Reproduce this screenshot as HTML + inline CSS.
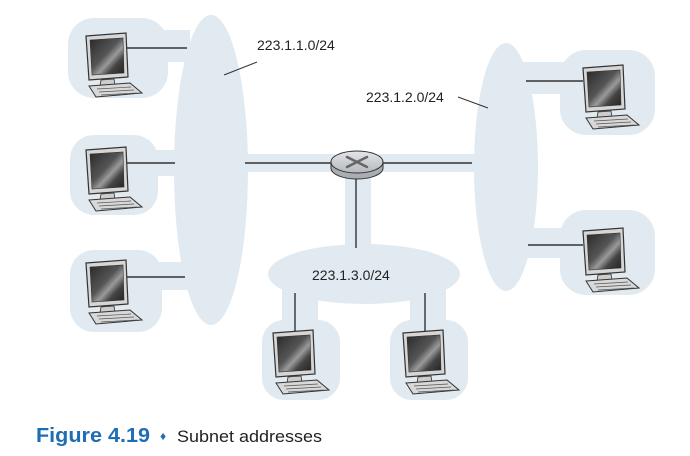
<!DOCTYPE html>
<html><head><meta charset="utf-8"><style>
html,body{margin:0;padding:0;background:#fff;}
svg{display:block}
</style></head><body>
<svg width="690" height="456" viewBox="0 0 690 456" xmlns="http://www.w3.org/2000/svg">
<defs>
<linearGradient id="scr" x1="0" y1="0" x2="1" y2="1">
<stop offset="0" stop-color="#2a2a2a"/><stop offset="0.45" stop-color="#555"/><stop offset="0.6" stop-color="#9a9a9a"/><stop offset="0.75" stop-color="#444"/><stop offset="1" stop-color="#222"/>
</linearGradient>
<linearGradient id="rt" x1="0" y1="0" x2="0" y2="1">
<stop offset="0" stop-color="#e4e6e8"/><stop offset="1" stop-color="#b4b8bc"/>
</linearGradient>
<g id="pc">
<polygon points="0,3 40,0 42,44 3,47" fill="#d6d6d6" stroke="#333" stroke-width="1.2"/>
<polygon points="4,7 37,5 38,40 6,42" fill="url(#scr)" stroke="#333" stroke-width="0.6"/>
<polygon points="15,47 28,46 29,52 14,53" fill="#ccc" stroke="#333" stroke-width="0.8"/>
<polygon points="3,53 44,50 56,60 10,64" fill="#d8d8d8" stroke="#333" stroke-width="1"/>
<line x1="11" y1="56" x2="45" y2="54" stroke="#555" stroke-width="0.7"/>
<line x1="13" y1="59" x2="48" y2="57" stroke="#555" stroke-width="0.7"/>
<line x1="15" y1="62" x2="51" y2="60" stroke="#555" stroke-width="0.7"/>
</g>
</defs>
<g fill="#e1eaf0">
<ellipse cx="211" cy="170" rx="37" ry="155"/>
<rect x="68" y="18" width="100" height="80" rx="26"/>
<rect x="150" y="30" width="40" height="32"/>
<rect x="70" y="135" width="88" height="80" rx="24"/>
<rect x="150" y="150" width="30" height="26"/>
<rect x="70" y="250" width="92" height="82" rx="24"/>
<rect x="150" y="262" width="40" height="28"/>
<rect x="240" y="154" width="100" height="18" rx="8"/>
<ellipse cx="506" cy="167" rx="32" ry="124"/>
<rect x="372" y="154" width="110" height="18" rx="8"/>
<rect x="560" y="50" width="95" height="85" rx="26"/>
<rect x="520" y="62" width="70" height="32"/>
<rect x="560" y="210" width="95" height="85" rx="26"/>
<rect x="520" y="228" width="70" height="30"/>
<rect x="345" y="170" width="26" height="90" rx="10"/>
<ellipse cx="364" cy="274" rx="96" ry="30"/>
<rect x="262" y="320" width="78" height="80" rx="22"/>
<rect x="282" y="285" width="36" height="50"/>
<rect x="390" y="320" width="78" height="80" rx="22"/>
<rect x="410" y="285" width="36" height="50"/>
</g>
<g stroke="#333" stroke-width="1.4">
<line x1="127" y1="48" x2="187" y2="48"/>
<line x1="127" y1="163" x2="175" y2="163"/>
<line x1="127" y1="277" x2="185" y2="277"/>
<line x1="245" y1="163" x2="335" y2="163"/>
<line x1="380" y1="163" x2="472" y2="163"/>
<line x1="526" y1="81" x2="583" y2="81"/>
<line x1="528" y1="245" x2="583" y2="245"/>
<line x1="356" y1="178" x2="356" y2="248"/>
<line x1="295" y1="293" x2="295" y2="332"/>
<line x1="425" y1="293" x2="425" y2="332"/>
</g>
<g stroke="#333" stroke-width="1">
<line x1="224" y1="75" x2="257" y2="62"/>
<line x1="458" y1="97" x2="488" y2="108"/>
</g>
<use href="#pc" x="86" y="33"/>
<use href="#pc" x="86" y="147"/>
<use href="#pc" x="86" y="260"/>
<use href="#pc" x="583" y="65"/>
<use href="#pc" x="583" y="228"/>
<use href="#pc" x="273" y="330"/>
<use href="#pc" x="403" y="330"/>
<g stroke="#333" stroke-width="1">
<path d="M331,162 v6 a26,11 0 0 0 52,0 v-6" fill="#a9aeb3"/>
<ellipse cx="357" cy="162" rx="26" ry="11" fill="url(#rt)"/>
</g>
<g stroke="#666" stroke-width="2.5" stroke-linecap="round">
<line x1="347" y1="157" x2="367" y2="167"/>
<line x1="367" y1="157" x2="347" y2="167"/>
</g>
<g font-family="Liberation Sans, sans-serif" font-size="14" fill="#222">
<text x="257" y="50">223.1.1.0/24</text>
<text x="366" y="102">223.1.2.0/24</text>
<text x="312" y="280">223.1.3.0/24</text>
</g>
<text x="36" y="442" font-family="Liberation Sans, sans-serif" font-size="20" fill="#1f6db3" font-weight="bold" textLength="114" lengthAdjust="spacingAndGlyphs">Figure 4.19</text>
<text x="160" y="440" font-family="Liberation Sans, sans-serif" font-size="12" fill="#1f6db3">♦</text>
<text x="177" y="442" font-family="Liberation Sans, sans-serif" font-size="17" fill="#222" textLength="145" lengthAdjust="spacingAndGlyphs">Subnet addresses</text>
</svg>
</body></html>
